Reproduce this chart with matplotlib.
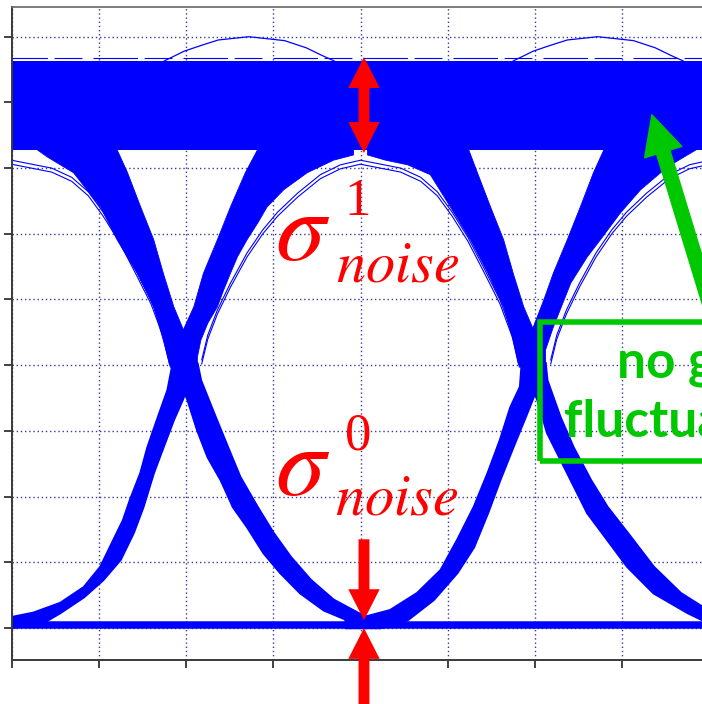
import numpy as np
import matplotlib
matplotlib.use("Agg")
import matplotlib.pyplot as plt
from matplotlib.patches import FancyArrowPatch, Rectangle
from matplotlib import transforms

plt.rcParams["mathtext.fontset"] = "stix"

BLUE = "#0000FF"
RED = "#FF0000"
GREEN = "#00C800"
GRID = "#3a3a9a"

# time axis in grid divisions, one unit interval = 4 divisions
UI = 4.0

# "1" level noise band and the "0" level rail
band_x = [-0.1, 8.3]
band_lo = [7.28, 7.28]
band_hi = [8.63, 8.63]
zero_x = [-0.1, 8.3]
zero_y = [0.05, 0.05]

# outlines of the transition strokes (first crossing)
ul1_x = [0.22, 0.41, 0.71, 1.02, 1.21, 1.44, 1.63, 1.74, 1.82, 2.12, 1.97, 1.86, 1.74, 1.63, 1.48, 1.33, 1.21, 1.21]
ul1_y = [7.35, 7.17, 6.93, 6.41, 5.91, 5.40, 4.89, 4.38, 3.97, 3.97, 4.54, 4.89, 5.40, 5.91, 6.41, 6.93, 7.28, 7.35]
ur1_x = [2.82, 2.82, 2.68, 2.51, 2.36, 2.20, 2.09, 1.97, 1.83, 2.13, 2.13, 2.17, 2.25, 2.36, 2.43, 2.51, 2.59, 2.70,
         2.82, 2.93, 3.12, 3.39, 3.69, 3.92, 3.92]
ur1_y = [7.35, 7.28, 6.93, 6.41, 5.91, 5.40, 4.89, 4.54, 3.97, 3.97, 4.12, 4.38, 4.64, 4.89, 5.14, 5.40, 5.65, 5.91,
         6.16, 6.41, 6.67, 6.93, 7.12, 7.20, 7.35]
ll1_x = [-0.05, 0.25, 0.56, 0.83, 1.02, 1.17, 1.28, 1.36, 1.48, 1.56, 1.67, 1.79, 1.85,
         2.12, 1.96, 1.86, 1.74, 1.63, 1.51, 1.40, 1.25, 1.05, 0.83, 0.56, 0.33, -0.05]
ll1_y = [0.15, 0.23, 0.38, 0.62, 0.93, 1.34, 1.64, 1.95, 2.36, 2.75, 3.17, 3.62, 4.03,
         4.03, 3.47, 3.17, 2.75, 2.36, 1.84, 1.45, 1.04, 0.73, 0.47, 0.23, 0.05, 0.0]
lr1_x = [2.13, 2.17, 2.32, 2.48, 2.62, 2.82, 3.00, 3.20, 3.43, 3.69, 3.97, 4.14,
         4.06, 3.85, 3.58, 3.31, 3.08, 2.89, 2.70, 2.54, 2.40, 2.25, 2.13, 2.02, 1.85]
lr1_y = [4.03, 3.77, 3.27, 2.75, 2.30, 1.84, 1.45, 1.08, 0.73, 0.43, 0.23, 0.12,
         0.0, 0.12, 0.27, 0.53, 0.84, 1.14, 1.54, 1.84, 2.25, 2.60, 3.01, 3.47, 4.03]

# second crossing
ul2_x = [4.08, 4.08, 4.29, 4.54, 4.80, 5.03, 5.26, 5.46, 5.64, 5.75, 5.82, 6.12, 5.97, 5.87, 5.75, 5.64, 5.49, 5.34, 5.24, 5.24]
ul2_y = [7.35, 7.20, 7.12, 7.05, 6.90, 6.41, 5.91, 5.40, 4.89, 4.38, 3.97, 3.97, 4.58, 4.89, 5.40, 5.91, 6.41, 6.93, 7.28, 7.35]
ur2_x = [6.79, 6.79, 6.67, 6.52, 6.37, 6.21, 6.10, 5.98, 5.85, 6.12, 6.12, 6.21, 6.41, 6.60, 6.75, 6.98, 7.21, 7.52, 7.90, 8.13]
ur2_y = [7.35, 7.28, 6.93, 6.41, 5.91, 5.40, 4.99, 4.58, 3.97, 3.97, 4.23, 4.58, 5.25, 5.65, 5.91, 6.32, 6.67, 7.02, 7.32, 7.43]
ll2_x = [3.83, 4.00, 4.34, 4.65, 4.92, 5.11, 5.30, 5.46, 5.60, 5.72, 5.83, 5.85,
         6.12, 5.97, 5.91, 5.75, 5.60, 5.46, 5.30, 5.11, 4.84, 4.54, 4.23, 3.83]
ll2_y = [0.12, 0.15, 0.27, 0.53, 0.88, 1.34, 1.84, 2.36, 2.86, 3.36, 3.67, 4.03,
         4.03, 3.47, 3.27, 2.75, 2.25, 1.75, 1.23, 0.84, 0.43, 0.12, 0.0, 0.0]
lr2_x = [6.12, 6.14, 6.29, 6.44, 6.64, 6.83, 7.06, 7.36, 7.67, 7.92, 8.13,
         8.13, 7.92, 7.75, 7.36, 7.06, 6.83, 6.60, 6.37, 6.14, 6.03, 5.85]
lr2_y = [4.03, 3.77, 3.21, 2.75, 2.25, 1.84, 1.45, 0.93, 0.53, 0.32, 0.24,
         0.0, 0.12, 0.23, 0.53, 0.93, 1.34, 1.75, 2.36, 2.97, 3.47, 4.03]

# sparse single traces: the 0-1-0 arch inside the eye and the overshoot above the band
eye_arch_x = [2.18, 2.25, 2.36, 2.51, 2.70, 2.88, 3.05, 3.28, 3.54, 3.77, 4.00,
              4.23, 4.46, 4.69, 4.88, 5.05, 5.23, 5.41, 5.60, 5.74, 5.81]
eye_arch_y = [4.08, 4.46, 4.84, 5.25, 5.71, 6.06, 6.33, 6.62, 6.90, 7.05, 7.12,
              7.06, 7.00, 6.86, 6.64, 6.33, 5.95, 5.49, 4.99, 4.49, 4.08]
overshoot_x = [5.75, 5.98, 6.18, 6.37, 6.72, 7.13, 7.38, 7.55, 7.70]
overshoot_y = [8.63, 8.78, 8.87, 8.95, 9.00, 8.94, 8.83, 8.72, 8.63]

# noise markers
sigma_x = 4.04
sigma1_tips = [8.69, 7.23]
sigma0_down = [1.35, 0.12]
sigma0_up = [-1.45, 0.0]

fig = plt.figure(figsize=(7.02, 7.04), dpi=100)
ax = fig.add_axes([11.5 / 702, 44 / 704, 698 / 702, 653 / 704])
ax.set_xlim(0, 8)
ax.set_ylim(-0.487, 9.452)
ax.set_xticks(np.arange(0, 9))
ax.set_yticks(np.arange(0, 10))
ax.set_xticklabels([])
ax.set_yticklabels([])
ax.tick_params(direction="out", length=5.5, width=1.3, color="#333333")
ax.grid(True, color=GRID, linestyle=(0, (1, 2)), linewidth=1.0)
ax.set_axisbelow(True)
for side in ("left", "bottom"):
    ax.spines[side].set_color("#3a3a3a")
    ax.spines[side].set_linewidth(1.4)
ax.spines["top"].set_color("#666666")
ax.spines["top"].set_linewidth(1.2)
ax.spines["right"].set_visible(False)

# eye diagram
ax.fill_between(band_x, band_lo, band_hi, color=BLUE, lw=0, zorder=2)
ax.plot(zero_x, zero_y, color=BLUE, lw=5.4, solid_capstyle="butt", zorder=2)
for xs, ys in [(ul1_x, ul1_y), (ur1_x, ur1_y), (ul2_x, ul2_y), (ur2_x, ur2_y)]:
    ax.fill(xs, ys, color=BLUE, lw=0.6, zorder=2)
for xs, ys in [(ll1_x, ll1_y), (lr1_x, lr1_y), (ll2_x, ll2_y), (lr2_x, lr2_y)]:
    ax.fill(xs, ys, color=BLUE, lw=1.8, joinstyle="round", zorder=2)

# sparse traces just above the band
ax.plot(band_x, [8.67, 8.67], color=BLUE, lw=0.8, ls=(0, (40, 6, 25, 10)), zorder=2)

shifted = transforms.offset_copy(ax.transData, fig=fig, y=-4, units="dots")
for k in (-1, 0, 1):
    xs = np.array(eye_arch_x) + k * UI
    ax.plot(xs, eye_arch_y, color=BLUE, lw=0.8, zorder=2)
    ax.plot(xs, eye_arch_y, color=BLUE, lw=0.8, zorder=2, transform=shifted)
for k in (-1, 0):
    ax.plot(np.array(overshoot_x) + k * UI, overshoot_y, color=BLUE, lw=0.9, zorder=2)

# red noise arrows
arrow_kw = dict(width=0.125, head_width=0.36, head_length=0.47, length_includes_head=True,
                color=RED, lw=0, zorder=5, clip_on=False)
mid = sum(sigma1_tips) / 2
for tip in sigma1_tips:
    ax.arrow(sigma_x, mid, 0, tip - mid, **arrow_kw)
ax.arrow(sigma_x, sigma0_down[0], 0, sigma0_down[1] - sigma0_down[0], **arrow_kw)
ax.arrow(sigma_x, sigma0_up[0], 0, sigma0_up[1] - sigma0_up[0], **arrow_kw)

for (sx, sy), sup, (nx, ny) in [((3.02, 5.60), "1", (3.72, 5.27)),
                                ((3.02, 2.02), "0", (3.71, 1.72))]:
    ax.text(sx, sy, r"$\sigma$", color=RED, fontsize=72, va="baseline", zorder=6)
    ax.text(sx + 0.80, sy + 0.69, sup, color=RED, fontsize=38, family="Liberation Serif",
            va="baseline", zorder=6)
    ax.text(nx, ny, r"$noise$", color=RED, fontsize=42, va="baseline", zorder=6)

# green callout
ax.add_patch(Rectangle((6.06, 2.54), 3.5, 2.12, fill=False, ec=GREEN, lw=4.0, zorder=6))
ax.text(7.89, 3.81, "no gain", color=GREEN, fontsize=37, family="Lato", weight="bold",
        ha="center", va="baseline", zorder=6)
ax.text(7.89, 2.91, "fluctuations", color=GREEN, fontsize=37, family="Lato", weight="bold",
        ha="center", va="baseline", zorder=6)
ax.add_patch(FancyArrowPatch((8.09, 4.54), (7.34, 7.81),
                             arrowstyle="simple,head_length=2.8,head_width=2.8,tail_width=1.0",
                             mutation_scale=10, color=GREEN, shrinkA=0, shrinkB=0,
                             clip_on=False, zorder=6))

fig.savefig("out.png", dpi=100)
